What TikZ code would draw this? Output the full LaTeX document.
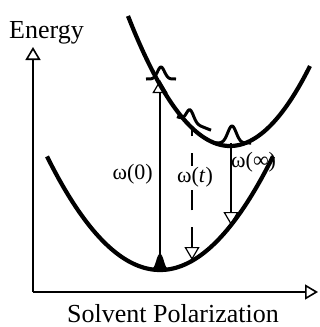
\documentclass[tikz,border=0pt]{standalone}
\usepackage{fontspec}
\setmainfont{Liberation Serif}
\usetikzlibrary{arrows.meta}

\begin{document}
\begin{tikzpicture}[x=1pt,y=-1pt,>={Triangle[open,length=13pt,width=15pt]},
    curve/.style={line width=4.2pt},
    packet/.style={line width=3pt},
    axis/.style={line width=1.6pt,->},
    transition/.style={line width=1.2pt,->},
    omega/.style={font=\fontsize{22}{25}\selectfont,inner sep=1pt}]
    \useasboundingbox (0,0) rectangle (320,327);
    % axes
    \coordinate (origin) at (33,292);
    \coordinate (etip) at (33,47);
    \coordinate (ptip) at (318,292);
    \draw[axis] (origin)--(etip);
    \draw[axis] (origin)--(ptip);
    \node[anchor=base west,inner sep=0,font=\fontsize{26}{29}\selectfont] (energy) at (9,38) {Energy};
    \node[anchor=base,inner sep=0,font=\fontsize{26}{29}\selectfont] (polar) at (173,322) {Solvent Polarization};

    % transitions
    \coordinate (g0) at (160,262);
    \coordinate (e0) at (160,80);
    \coordinate (gt) at (192,128);
    \coordinate (et) at (192,260);
    \coordinate (ginf) at (231,143);
    \coordinate (einf) at (231,225);
    \draw[transition] (g0)--(e0);
    \draw[transition,<-,dash pattern=on 20pt off 17pt] (et)--(gt);
    \draw[transition] (ginf)--(einf);

    % free energy curves
    \draw[curve] plot[domain=47:273,samples=80] (\x,{270-0.0089*(\x-160)*(\x-160)});
    \draw[curve] plot[domain=128:310,samples=80] (\x,{146-0.0125*(\x-230)*(\x-230)});

    % wave packets
    \filldraw[line width=2pt] plot[domain=150:170,samples=30] (\x,{270-15*exp(-(\x-160)*(\x-160)/16)}) -- cycle;
    \draw[packet] plot[domain=146:176,samples=40] (\x,{79-12*exp(-(\x-161)*(\x-161)/25)});
    \draw[packet] plot[domain=177:211,samples=40] (\x,{121.8+0.4*(\x-190)-12*exp(-(\x-190)*(\x-190)/25)});
    \draw[packet] plot[domain=213:251,samples=40] (\x,{143-17*exp(-(\x-232)*(\x-232)/36)});

    \node[omega,anchor=east] (w0) at (154,174) {ω(0)};
    \node[omega,fill=white] (wt) at (195,177) {ω(\textit{t})};
    \node[omega,anchor=west] (winf) at (230,162) {ω(∞)};
\end{tikzpicture}
\end{document}
